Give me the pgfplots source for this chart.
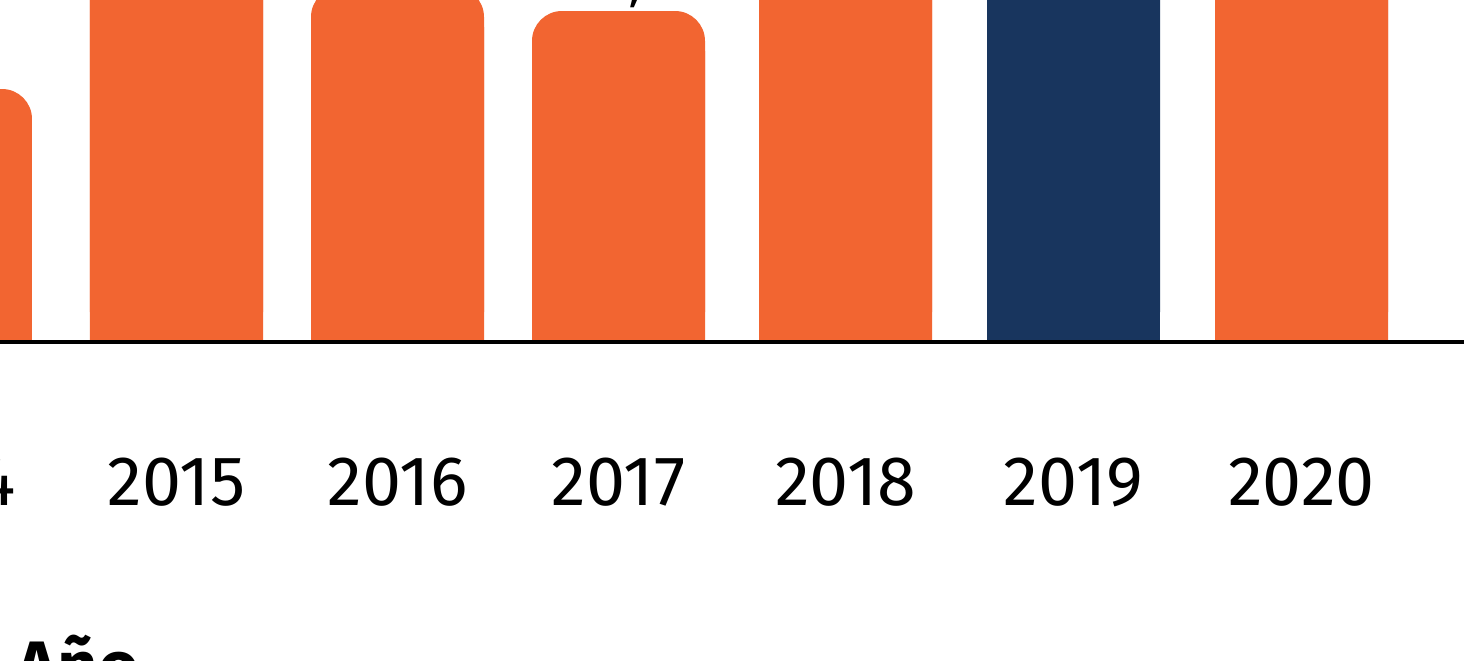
\documentclass[border=0pt]{standalone}
\usepackage{fontspec}
\setmainfont{Fira Sans}
\usepackage{pgfplots}
\usepackage{pgfplotstable}
\pgfplotsset{compat=1.18}
\definecolor{naranja}{HTML}{F26531}
\definecolor{marino}{HTML}{18355E}

% x: bar centre, y: bar height (chart units)
\pgfplotstableread{
pos val lab
-54.5 253 {27,4}
176.5 420 {49,8}
397.5 355 {41,6}
618.5 331 {38,7}
845.5 410 {48,2}
1301.5 430 {50,3}
}\naranjas
\pgfplotstableread{
pos val lab
1073.5 390 {46,5}
}\marinos

\begin{document}
\begin{tikzpicture}
\useasboundingbox (0,-159pt) rectangle (732pt,171pt);
\clip (0,-159pt) rectangle (732pt,171pt);
\begin{axis}[
    at={(-100pt,0pt)}, anchor=south west,
    scale only axis, width=832pt, height=171pt,
    xmin=-200, xmax=1464, ymin=0, ymax=342,
    axis x line*=bottom, axis y line=none,
    x axis line style={line width=1.6pt, -},
    axis on top,
    xtick={-54.5,176.5,397.5,618.5,845.5,1073.5,1301.5},
    xticklabels={2014,2015,2016,2017,2018,2019,2020},
    major tick length=0pt,
    xticklabel style={anchor=base, yshift=-81.5pt, font=\fontsize{35}{40}\selectfont},
    ybar, bar width=86.5pt, bar shift=0pt,
    every axis plot/.append style={draw=none},
    nodes near coords style={anchor=base, yshift=6.5pt, font=\fontsize{28}{32}\selectfont, text=black},
]
% rounded bars with value labels
\addplot[fill=naranja, rounded corners=15pt, nodes near coords, point meta=explicit symbolic]
    table[x=pos, y=val, meta=lab] {\naranjas};
\addplot[fill=marino, rounded corners=15pt, nodes near coords, point meta=explicit symbolic]
    table[x=pos, y=val, meta=lab] {\marinos};
% square lower part so that only the top corners are rounded
\addplot[fill=naranja] table[x=pos, y expr=\thisrow{val}-40] {\naranjas};
\addplot[fill=marino] table[x=pos, y expr=\thisrow{val}-40] {\marinos};
\end{axis}
\node[anchor=base west, inner sep=0pt, font=\bfseries\fontsize{35}{40}\selectfont] at (8pt,-174pt) {Año};
\end{tikzpicture}
\end{document}
